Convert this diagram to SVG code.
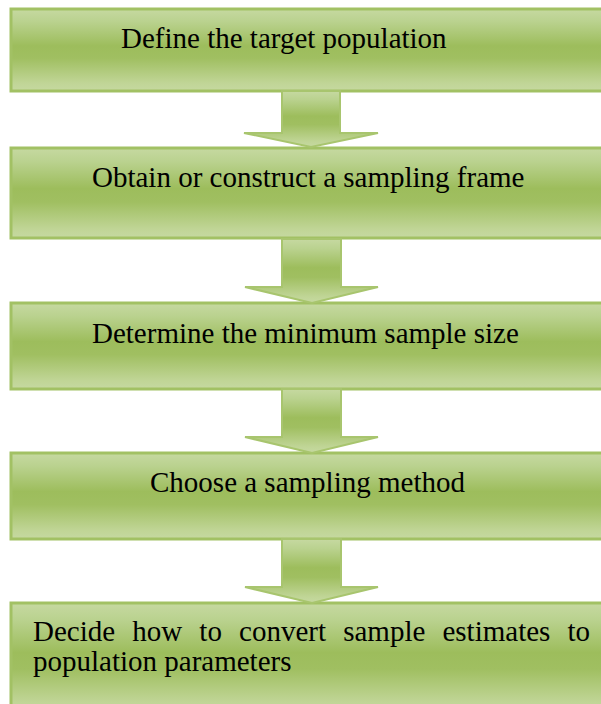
<svg xmlns="http://www.w3.org/2000/svg" width="601" height="704" viewBox="0 0 601 704">
<defs>
<linearGradient id="g" x1="0" y1="0" x2="0" y2="1">
<stop offset="0" stop-color="#c6d9a1"/>
<stop offset="0.15" stop-color="#bad28f"/>
<stop offset="0.45" stop-color="#9dbd5c"/>
<stop offset="0.6" stop-color="#a0bf61"/>
<stop offset="0.9" stop-color="#c0d596"/>
<stop offset="1" stop-color="#c6d9a1"/>
</linearGradient>
<style>
.box{fill:url(#g);stroke:#a2c164;stroke-width:3}
.arr{fill:url(#g);stroke:#a8c56e;stroke-width:2;stroke-linejoin:miter}
text{font-family:"Liberation Serif","Times New Roman",serif;font-size:29px;fill:#000}
</style>
</defs>
<g id="n1"><rect class="box" x="11" y="9" width="600" height="82"/><text x="121" y="48">Define the target population</text></g>
<g id="n2"><rect class="box" x="11" y="148" width="600" height="90"/><text x="92" y="187">Obtain or construct a sampling frame</text></g>
<g id="n3"><rect class="box" x="11" y="303" width="600" height="86"/><text x="92" y="343">Determine the minimum sample size</text></g>
<g id="n4"><rect class="box" x="11" y="453" width="600" height="86"/><text x="150" y="492">Choose a sampling method</text></g>
<g id="n5"><rect class="box" x="11" y="603" width="600" height="110"/><text x="33" y="641" word-spacing="9.9">Decide how to convert sample estimates to</text><text x="33" y="671">population parameters</text></g>
<g id="connectors">
<polygon class="arr" points="282,91 340,91 340,133 378,133 311,147 244,133 282,133"/>
<polygon class="arr" points="282,239 341,239 341,287 378,287 312,303 245,287 282,287"/>
<polygon class="arr" points="282,389 341,389 341,437 378,437 312,453 245,437 282,437"/>
<polygon class="arr" points="282,539 341,539 341,587 378,587 312,603 245,587 282,587"/>
</g>
</svg>
